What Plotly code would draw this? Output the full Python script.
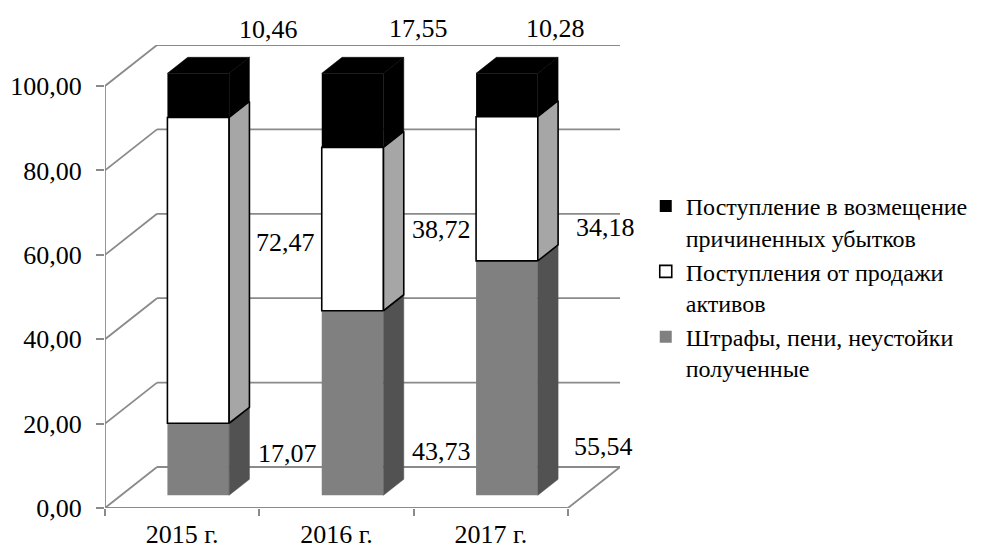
import plotly.graph_objects as go

# ---- data -------------------------------------------------------------
years = ["2015 г.", "2016 г.", "2017 г."]
fines = [17.07, 43.73, 55.54]          # Штрафы, пени, неустойки полученные
asset_sales = [72.47, 38.72, 34.18]    # Поступления от продажи активов
damages = [10.46, 17.55, 10.28]        # Поступление в возмещение причиненных убытков

y_ticks = [0, 20, 40, 60, 80, 100]

# stacking order: bottom -> top
series = [
    dict(name="Штрафы, пени, неустойки<br>полученные", values=fines,
         front="#808080", side="#525252", line=0),
    dict(name="Поступления от продажи<br>активов", values=asset_sales,
         front="#ffffff", side="#a6a6a6", line=1.6),
    dict(name="Поступление в возмещение<br>причиненных убытков", values=damages,
         front="#000000", side="#000000", line=0),
]

# value-label placement per series: (x offset from category, y level on front plane)
label_pos = [
    ([0.68, 0.68, 0.73], [13.0, 13.3, 14.5]),
    ([0.67, 0.68, 0.74], [62.8, 65.9, 66.4]),
    ([0.56, 0.53, 0.42], [113.5, 113.7, 113.7]),
]

# ---- pseudo-3D geometry (data units) ----------------------------------
DEPTH_X = 0.337      # full floor depth, horizontal component
DEPTH_Y = 9.72       # full floor depth, vertical component
BAR_FRONT, BAR_BACK = 0.31, 0.70
BAR_W = 0.40
GRID = "#8a8a8a"
FONT = "Liberation Serif"

fx, fy = BAR_FRONT * DEPTH_X, BAR_FRONT * DEPTH_Y
sx, sy = (BAR_BACK - BAR_FRONT) * DEPTH_X, (BAR_BACK - BAR_FRONT) * DEPTH_Y
n = len(years)
xs = [i + fx for i in range(n)]
x_left, x_right = -0.5, n - 0.5
y_top = y_ticks[-1] + DEPTH_Y

fig = go.Figure()

bottoms = [0.0] * n
side_traces = []
for s in series:
    vals = s["values"]
    fig.add_bar(
        x=xs, y=vals, base=[b + fy for b in bottoms], width=BAR_W,
        name=s["name"],
        marker=dict(color=s["front"],
                    line=dict(color="black", width=s["line"])),
        hoverinfo="skip",
    )
    px, py = [], []
    for i in range(n):
        x1 = xs[i] + BAR_W / 2
        b = bottoms[i] + fy
        t = b + vals[i]
        px += [x1, x1 + sx, x1 + sx, x1, x1, None]
        py += [b, b + sy, t + sy, t, b, None]
    side_traces.append(go.Scatter(
        x=px, y=py, mode="lines", fill="toself", fillcolor=s["side"],
        line=dict(color="black" if s["line"] else s["side"],
                  width=s["line"] if s["line"] else 0.5),
        showlegend=False, hoverinfo="skip"))
    bottoms = [b + v for b, v in zip(bottoms, vals)]

for tr in side_traces:
    fig.add_trace(tr)

# top faces of the stacks
tx, ty = [], []
for i in range(n):
    x0, x1 = xs[i] - BAR_W / 2, xs[i] + BAR_W / 2
    T = bottoms[i] + fy
    tx += [x0, x0 + sx, x1 + sx, x1, x0, None]
    ty += [T, T + sy, T + sy, T, T, None]
fig.add_trace(go.Scatter(x=tx, y=ty, mode="lines", fill="toself",
                         fillcolor=series[-1]["side"],
                         line=dict(color=series[-1]["side"], width=0.5),
                         showlegend=False, hoverinfo="skip"))

# ---- walls and floor ---------------------------------------------------
shapes = []
for v in y_ticks:
    shapes.append(dict(type="line", x0=x_left + DEPTH_X, y0=v + DEPTH_Y,
                       x1=x_right + DEPTH_X, y1=v + DEPTH_Y))
    shapes.append(dict(type="line", x0=x_left, y0=v,
                       x1=x_left + DEPTH_X, y1=v + DEPTH_Y))
shapes.append(dict(type="line", x0=x_left, y0=0, x1=x_right, y1=0))
shapes.append(dict(type="line", x0=x_right, y0=0,
                   x1=x_right + DEPTH_X, y1=DEPTH_Y))
shapes.append(dict(type="line", x0=x_left, y0=0, x1=x_left, y1=y_ticks[-1]))
for sh in shapes:
    sh.update(xref="x", yref="y", layer="below",
              line=dict(color=GRID, width=1.8))

# ---- value labels (paper y so labels above the wall stay visible) -------
annotations = []
for s, (dxs, ys) in zip(series, label_pos):
    for i, v in enumerate(s["values"]):
        annotations.append(dict(
            x=i + dxs[i], y=ys[i] / y_top, xref="x", yref="paper",
            xanchor="center", yanchor="middle",
            text=f"{v:.2f}".replace(".", ","), showarrow=False,
            font=dict(size=26, color="black", family=FONT)))

fig.update_layout(
    width=1003, height=551,
    margin=dict(l=105, r=383, t=45, b=43),
    paper_bgcolor="white", plot_bgcolor="white",
    barmode="overlay",
    separators=", ",
    font=dict(family=FONT, size=26, color="black"),
    shapes=shapes,
    annotations=annotations,
    showlegend=True,
    legend=dict(x=1.05, xanchor="left", y=0.70, yanchor="top",
                traceorder="reversed", valign="top", itemwidth=30,
                font=dict(size=24, family=FONT, color="black"),
                bgcolor="rgba(0,0,0,0)"),
    xaxis=dict(range=[x_left, x_right + DEPTH_X], tickvals=list(range(n)),
               ticktext=years, ticks="", showgrid=False, zeroline=False,
               showline=False, ticklabelstandoff=8, automargin=False,
               minor=dict(tickvals=[x_left + k for k in range(n + 1)],
                          ticks="outside", ticklen=7, tickwidth=1.8,
                          tickcolor=GRID, showgrid=False),
               fixedrange=True),
    yaxis=dict(range=[0, y_top], tickvals=y_ticks,
               tickformat=".2f", ticks="outside", ticklen=8,
               tickwidth=1.8, tickcolor=GRID, showgrid=False,
               zeroline=False, showline=False, ticklabelstandoff=9,
               automargin=False, fixedrange=True),
)

fig.write_html("out.html")
